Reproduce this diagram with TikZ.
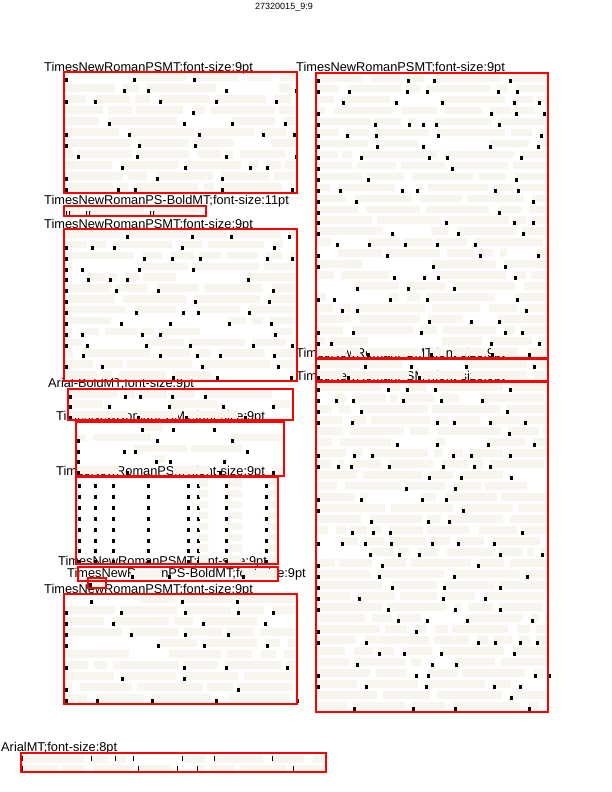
\documentclass[tikz,border=0pt]{standalone}
\usepackage{fontspec}
\setmainfont{Liberation Sans}
\usepackage{color}
\definecolor{barbeige}{RGB}{248,244,238}

% glyph at the start of a word, at (x, row top)
\newcommand\wordglyph[2]{\fill[glyph] (#1+0.5,#2+6) rectangle ++(3,4);}
% one line of words: left, top, right, density (0..10)
\newcommand\textrow[4]{%
  \pgfmathsetmacro\cx{#1}%
  \loop
    \pgfmathsetmacro\bw{random(8,70)}%
    \pgfmathsetmacro\ex{min(\cx+\bw,#3-1)}%
    \pgfmathtruncatemacro\hasbar{random(0,9)<#4}%
    \ifnum\hasbar=1 \fill[bar] (\cx+1,#2+1) rectangle (\ex,#2+8.5);\fi
    \pgfmathtruncatemacro\hasglyph{random(0,9)>2}%
    \ifnum\hasglyph=1 \wordglyph{\cx}{#2}\fi
    \pgfmathsetmacro\cx{\ex+random(3,8)}%
  \ifdim\cx pt<#3pt\repeat}
% a block of lines: left, top, right, rows, row height, density
\newcommand\textblock[6]{%
  \foreach \r in {1,...,#4}{%
    \pgfmathsetmacro\ry{#2+(\r-1)*#5}%
    \textrow{#1}{\ry}{#3}{#6}}}

\begin{document}
\begin{tikzpicture}
    [x=1pt, y=-1pt,
     region/.style={draw=red, line width=1.1pt},
     bar/.style={fill=barbeige},
     glyph/.style={fill=black},
     fonttag/.style={anchor=base west, inner sep=0pt, font=\fontsize{12.8}{14}\selectfont},
     pagetag/.style={anchor=base, inner sep=0pt, font=\fontsize{9}{10}\selectfont}]
    \pgfmathsetseed{9}
    \useasboundingbox (0,0) rectangle (612,792);

    \node [pagetag] (page) at (284,10) {27320015\_9:9};

    % labels
    \node [fonttag] (t1) at (44,71) {TimesNewRomanPSMT;font-size:9pt};
    \node [fonttag] (t2) at (44,204) {TimesNewRomanPS-BoldMT;font-size:11pt};
    \node [fonttag] (t3) at (44,228) {TimesNewRomanPSMT;font-size:9pt};
    \node [fonttag] (t4) at (48,387) {Arial-BoldMT;font-size:9pt};
    \node [fonttag] (t5) at (56,420) {TimesNewRomanPSMT;font-size:9pt};
    \node [fonttag] (t6) at (56,475) {TimesNewRomanPSMT;font-size:9pt};
    \node [fonttag] (t7) at (58,565) {TimesNewRomanPSMT;font-size:9pt};
    \node [fonttag] (t8) at (67,577) {TimesNewRomanPS-BoldMT;font-size:9pt};
    \node [fonttag] (t9) at (44,593) {TimesNewRomanPSMT;font-size:9pt};
    \node [fonttag] (t10) at (1,751) {ArialMT;font-size:8pt};
    \node [fonttag] (ta) at (296,71) {TimesNewRomanPSMT;font-size:9pt};
    \node [fonttag] (tb) at (296,357) {TimesNewRomanPSMT;font-size:9pt};
    \node [fonttag] (tc) at (296,380) {TimesNewRomanPSMT;font-size:9pt};

    % left column
    \textblock{64}{72}{297}{11}{11}{9}
    \fill [bar] (66,207) rectangle (80,213) (86,207) rectangle (144,213) (150,207) rectangle (200,213);
    \foreach \x in {66,86,150} {
        \fill [glyph] (\x,211) rectangle ++(1,5) (\x+3,211) rectangle ++(1,5);
    }
    \textblock{64}{229}{297}{14}{10.85}{9}
    \textblock{68}{389}{293}{3}{10.3}{8}
    \textblock{76}{422}{284}{5}{10.8}{4}
    \foreach \r in {0,...,7} {
        \pgfmathsetmacro\ry{478+\r*10.9}
        \foreach \x in {77,93,111,146,186,196,224,264} {
            \wordglyph{\x}{\ry}
        }
        \fill [bar] (199,\ry+1) rectangle (208,\ry+8.5) (228,\ry+1) rectangle (242,\ry+8.5) (268,\ry+1) rectangle (277,\ry+8.5);
    }
    \textrow{78}{569}{278}{7}
    \fill [bar] (90,579) rectangle (104,587);
    \wordglyph{88}{577}
    \textblock{64}{594}{297}{10}{11}{9}
    \begin{scope}
        \renewcommand\wordglyph[2]{\fill[glyph] (#1+0.5,#2+2) rectangle ++(1.8,5);}
        \textblock{21}{754}{326}{2}{9.5}{9}
    \end{scope}

    % right column
    \textblock{316}{73}{548}{26}{10.96}{9}
    \textblock{316}{359}{548}{2}{11}{9}
    \textblock{316}{382}{548}{30}{11}{9}

    % regions
    \draw [region] (64,72) rectangle (297,193);
    \draw [region] (64,206) rectangle (206,216);
    \draw [region] (64,229) rectangle (297,381);
    \draw [region] (68,389) rectangle (293,420);
    \draw [region] (76,422) rectangle (284,476);
    \draw [region] (76,477) rectangle (278,564);
    \draw [region] (78,567) rectangle (278,581);
    \draw [region] (88,578) rectangle (106,588);
    \draw [region] (64,594) rectangle (297,704);
    \draw [region] (21,753) rectangle (326,772);
    \draw [region] (316,73) rectangle (548,358);
    \draw [region] (316,359) rectangle (548,381);
    \draw [region] (316,382) rectangle (548,712);
\end{tikzpicture}
\end{document}
